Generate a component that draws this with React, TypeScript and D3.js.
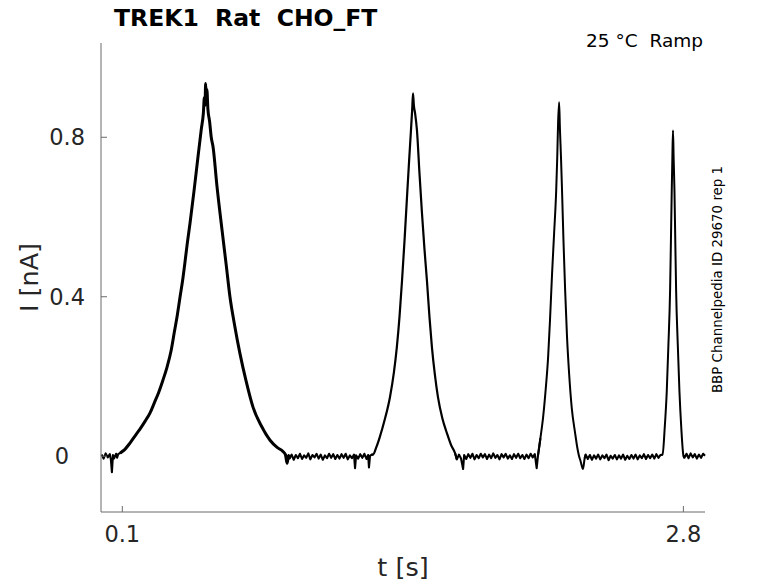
import React from "react";
import * as d3 from "d3";

// ---- data ----
const baselineStart: [number, number][] = [
  [0.0, 0.004], [0.01, -0.006], [0.02, 0.007], [0.03, -0.003], [0.04, 0.005],
  [0.045, -0.008], [0.05, -0.04], [0.055, 0.003], [0.06, -0.006], [0.07, 0.006],
  [0.075, -0.004], [0.08, 0.005], [0.09, 0.008],
];
const peak1: [number, number][] = [
  [0.11, 0.016], [0.137, 0.033], [0.16, 0.05], [0.185, 0.068], [0.21, 0.088],
  [0.233, 0.108], [0.255, 0.135], [0.275, 0.16], [0.295, 0.19], [0.315, 0.223],
  [0.335, 0.265], [0.35, 0.31], [0.365, 0.355], [0.378, 0.4], [0.39, 0.44],
  [0.4, 0.48], [0.413, 0.535], [0.426, 0.585], [0.445, 0.665], [0.464, 0.75],
  [0.48, 0.82], [0.49, 0.86], [0.495, 0.9], [0.498, 0.88], [0.501, 0.935],
  [0.504, 0.9], [0.507, 0.92], [0.512, 0.87], [0.52, 0.84], [0.528, 0.8],
  [0.537, 0.775], [0.555, 0.68], [0.58, 0.567], [0.6, 0.48], [0.618, 0.4],
  [0.64, 0.33], [0.666, 0.258], [0.695, 0.19], [0.729, 0.123], [0.77, 0.075],
  [0.811, 0.04], [0.845, 0.022], [0.873, 0.012], [0.885, 0.004], [0.893, -0.018],
  [0.9, 0.002],
];
const baseline2: [number, number][] = [
  [0.905, -0.006], [0.915, 0.004], [0.925, -0.009], [0.935, 0.003], [0.945, -0.005],
  [0.955, 0.006], [0.965, -0.007], [0.975, 0.002], [0.985, -0.004], [0.995, 0.007],
  [1.005, -0.008], [1.015, 0.003], [1.025, -0.003], [1.035, 0.006], [1.045, -0.006],
  [1.055, 0.004], [1.065, -0.009], [1.075, 0.002], [1.085, -0.005], [1.095, 0.006],
  [1.105, -0.004], [1.115, 0.005], [1.125, -0.007], [1.135, 0.003], [1.145, -0.006],
  [1.155, 0.005], [1.165, -0.004], [1.175, 0.006], [1.185, -0.008], [1.195, 0.002],
  [1.205, -0.005], [1.215, 0.004], [1.22, -0.03], [1.225, 0.002], [1.235, -0.006],
  [1.245, 0.005], [1.255, -0.004], [1.265, 0.006], [1.275, -0.007], [1.283, 0.003],
  [1.287, -0.028], [1.292, 0.001], [1.3, 0.004],
];
const peak2: [number, number][] = [
  [1.306, 0.004], [1.322, 0.022], [1.339, 0.048], [1.362, 0.09], [1.388, 0.148],
  [1.407, 0.21], [1.421, 0.273], [1.434, 0.35], [1.446, 0.44], [1.458, 0.54],
  [1.47, 0.65], [1.48, 0.74], [1.489, 0.817], [1.495, 0.87], [1.499, 0.91],
  [1.503, 0.88], [1.509, 0.86], [1.518, 0.817], [1.53, 0.71], [1.542, 0.61],
  [1.554, 0.52], [1.566, 0.44], [1.578, 0.35], [1.59, 0.273], [1.604, 0.205],
  [1.619, 0.148], [1.64, 0.095], [1.662, 0.058], [1.682, 0.028], [1.701, 0.008],
];
const baseline3: [number, number][] = [
  [1.71, -0.008], [1.72, 0.004], [1.73, -0.006], [1.74, -0.032], [1.745, 0.003],
  [1.755, -0.007], [1.765, 0.005], [1.775, -0.004], [1.785, 0.006], [1.795, -0.008],
  [1.805, 0.003], [1.815, -0.005], [1.825, 0.006], [1.835, -0.003], [1.845, 0.005],
  [1.855, -0.007], [1.865, 0.004], [1.875, -0.005], [1.885, 0.007], [1.895, -0.004],
  [1.905, 0.003], [1.915, -0.008], [1.925, 0.005], [1.935, -0.003], [1.945, 0.006],
  [1.955, -0.006], [1.965, 0.002], [1.975, -0.007], [1.985, 0.005], [1.995, -0.004],
  [2.005, 0.006], [2.015, -0.005], [2.025, 0.003], [2.035, -0.007], [2.045, 0.004],
  [2.055, -0.005], [2.065, 0.006], [2.075, -0.003], [2.085, 0.005], [2.094, -0.03],
  [2.1, 0.0],
];
const peak3: [number, number][] = [
  [2.112, 0.045], [2.125, 0.098], [2.137, 0.165], [2.149, 0.248], [2.158, 0.34],
  [2.168, 0.457], [2.178, 0.56], [2.188, 0.667], [2.193, 0.75], [2.197, 0.835],
  [2.202, 0.888], [2.206, 0.82], [2.211, 0.75], [2.216, 0.667], [2.223, 0.54],
  [2.231, 0.416], [2.24, 0.3], [2.25, 0.208], [2.263, 0.12], [2.279, 0.058],
  [2.29, 0.02], [2.298, 0.0], [2.305, -0.012], [2.317, -0.032], [2.325, -0.005],
];
const baseline4: [number, number][] = [
  [2.33, 0.004], [2.34, -0.007], [2.35, 0.003], [2.36, -0.009], [2.37, 0.002],
  [2.38, -0.006], [2.39, 0.004], [2.4, -0.008], [2.41, 0.002], [2.42, -0.005],
  [2.43, 0.004], [2.44, -0.01], [2.45, 0.001], [2.46, -0.006], [2.47, 0.003],
  [2.48, -0.008], [2.49, 0.002], [2.5, -0.006], [2.51, 0.004], [2.52, -0.009],
  [2.53, 0.001], [2.54, -0.007], [2.55, 0.003], [2.56, -0.006], [2.57, 0.004],
  [2.58, -0.008], [2.59, 0.002], [2.6, -0.005], [2.61, 0.005], [2.62, -0.007],
  [2.63, 0.003], [2.64, -0.005], [2.65, 0.004], [2.66, -0.006], [2.67, 0.005],
  [2.68, -0.004], [2.69, 0.003],
];
const peak4: [number, number][] = [
  [2.7, 0.004], [2.71, 0.07], [2.72, 0.163], [2.728, 0.28], [2.736, 0.416],
  [2.74, 0.54], [2.744, 0.667], [2.747, 0.75], [2.75, 0.817], [2.753, 0.75],
  [2.757, 0.667], [2.761, 0.54], [2.765, 0.416], [2.773, 0.28], [2.781, 0.163],
  [2.79, 0.07], [2.8, 0.002],
];
const baselineEnd: [number, number][] = [
  [2.805, -0.004], [2.815, 0.006], [2.825, -0.005], [2.835, 0.007], [2.845, -0.003],
  [2.855, 0.005], [2.865, -0.006], [2.875, 0.004], [2.885, -0.004], [2.895, 0.006],
  [2.904, 0.001],
];

const xTicks = [0.1, 2.8];
const xTickLabels = ["0.1", "2.8"];
const yTicks = [0, 0.4, 0.8];
const yTickLabels = ["0", "0.4", "0.8"];

const title = "TREK1  Rat  CHO_FT";
const subtitle = "25 °C  Ramp";
const sideNote = "BBP Channelpedia ID 29670 rep 1";
const xLabel = "t [s]";
const yLabel = "I [nA]";

const segments: { pts: [number, number][]; kind: "base" | "peak"; w: number }[] = [
  { pts: baselineStart, kind: "base", w: 2.1 },
  { pts: peak1, kind: "peak", w: 3 },
  { pts: baseline2, kind: "base", w: 2.1 },
  { pts: peak2, kind: "peak", w: 2.2 },
  { pts: baseline3, kind: "base", w: 2.1 },
  { pts: peak3, kind: "peak", w: 2 },
  { pts: baseline4, kind: "base", w: 2.1 },
  { pts: peak4, kind: "peak", w: 2 },
  { pts: baselineEnd, kind: "base", w: 2.1 },
];

export default function App() {
  const W = 778, H = 583;
  const L = 101, R = 705, T = 43, B = 512;
  const x = d3.scaleLinear().domain([-0.0025, 2.904]).range([L, R]);
  const y = d3.scaleLinear().domain([-0.14, 1.0365]).range([B, T]);
  const baseLine = d3.line<[number, number]>().x((d) => x(d[0])).y((d) => y(d[1]));
  const peakLine = d3
    .line<[number, number]>()
    .x((d) => x(d[0]))
    .y((d) => y(d[1]))
    .curve(d3.curveMonotoneX);
  const font = "'DejaVu Sans', sans-serif";
  const axisColor = "#6a6a6a";
  const textColor = "#262626";

  return (
    <svg
      width={W}
      height={H}
      style={{ position: "absolute", left: 0, top: 0, background: "#fff" }}
      fontFamily={font}
    >
      <rect width={W} height={H} fill="#fff" />
      {segments.map((s, i) => {
        const prev = i > 0 ? [segments[i - 1].pts[segments[i - 1].pts.length - 1]] : [];
        const next = i < segments.length - 1 ? [segments[i + 1].pts[0]] : [];
        const pts = [...prev, ...s.pts, ...next];
        const gen = s.kind === "peak" ? peakLine : baseLine;
        return (
          <path
            key={i}
            d={gen(pts) || ""}
            fill="none"
            stroke="#000"
            strokeWidth={s.w}
            strokeLinejoin="round"
          />
        );
      })}
      {/* axes */}
      <line x1={L} y1={T} x2={L} y2={B} stroke={axisColor} strokeWidth={1} />
      <line x1={L} y1={B} x2={R} y2={B} stroke={axisColor} strokeWidth={1} />
      {yTicks.map((v, i) => (
        <g key={"y" + i}>
          <line x1={L} x2={L + 6} y1={y(v)} y2={y(v)} stroke={axisColor} />
          <text
            x={v === 0 ? 69 : 85}
            y={y(v)}
            dy="0.36em"
            textAnchor="end"
            fontSize={22.5}
            fill={textColor}
          >
            {yTickLabels[i]}
          </text>
        </g>
      ))}
      {xTicks.map((v, i) => (
        <g key={"x" + i}>
          <line x1={x(v)} x2={x(v)} y1={B} y2={B - 6} stroke={axisColor} />
          <text x={x(v)} y={542} textAnchor="middle" fontSize={22.5} fill={textColor}>
            {xTickLabels[i]}
          </text>
        </g>
      ))}
      <text x={(L + R) / 2} y={576} textAnchor="middle" fontSize={25.5} fill={textColor}>
        {xLabel}
      </text>
      <text
        transform={`translate(38, ${(T + B) / 2}) rotate(-90)`}
        textAnchor="middle"
        fontSize={25.5}
        fill={textColor}
      >
        {yLabel}
      </text>
      <text x={114} y={26} fontSize={23.5} fontWeight="bold" fill="#000" style={{ whiteSpace: "pre" }}>
        {title}
      </text>
      <text
        x={703}
        y={47}
        textAnchor="end"
        fontSize={18.5}
        fill="#000"
        style={{ whiteSpace: "pre" }}
      >
        {subtitle}
      </text>
      <text
        transform={`translate(722, ${(T + B) / 2 + 2}) rotate(-90)`}
        textAnchor="middle"
        fontSize={13.4}
        fill="#000"
      >
        {sideNote}
      </text>
    </svg>
  );
}
